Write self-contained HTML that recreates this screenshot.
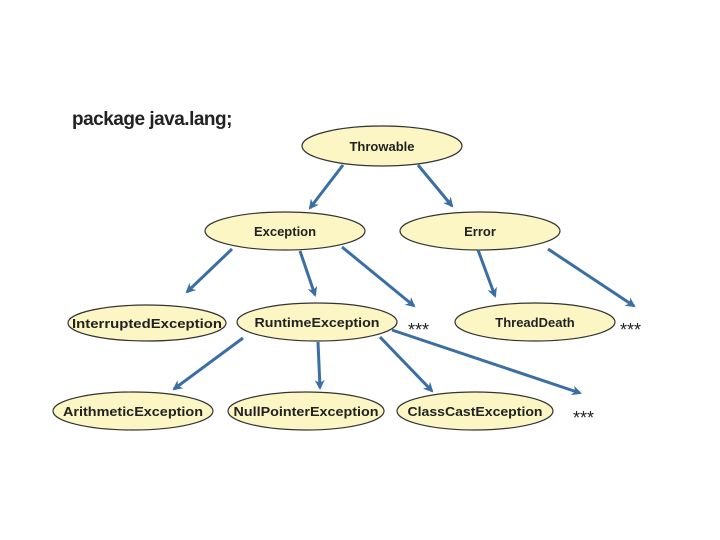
<!DOCTYPE html>
<html><head><meta charset="utf-8"><style>
html,body{margin:0;padding:0;background:#fff;}
svg{display:block;}
text{font-family:"Liberation Sans",sans-serif;}
</style></head><body>
<svg width="720" height="540" viewBox="0 0 720 540" xmlns="http://www.w3.org/2000/svg">
<defs>
<marker id="a" markerWidth="10" markerHeight="10" refX="8" refY="5" orient="auto" markerUnits="userSpaceOnUse" viewBox="0 0 10 10">
<path d="M0,0 L10,5 L0,10 L3,5 z" fill="#3a6ea5"/>
</marker>
</defs>
<text x="72" y="125" font-size="19" fill="#222" font-weight="bold" letter-spacing="-0.5">package java.lang;</text>
<g fill="#fbf6c4" stroke="#333" stroke-width="1.2">
<ellipse cx="382" cy="146" rx="80" ry="20"/>
<ellipse cx="285" cy="231" rx="80" ry="19"/>
<ellipse cx="480" cy="231" rx="80" ry="19"/>
<ellipse cx="147" cy="323" rx="79" ry="18"/>
<ellipse cx="317" cy="322" rx="80" ry="19"/>
<ellipse cx="535" cy="322" rx="80" ry="19"/>
<ellipse cx="133" cy="411" rx="80" ry="19"/>
<ellipse cx="306" cy="411" rx="78" ry="19"/>
<ellipse cx="475" cy="411" rx="78" ry="19"/>
</g>
<g font-size="13" font-weight="bold" fill="#222" text-anchor="middle">
<text x="382" y="151">Throwable</text>
<text x="285" y="236">Exception</text>
<text x="480" y="236">Error</text>
<text x="147" y="328" textLength="150" lengthAdjust="spacingAndGlyphs">InterruptedException</text>
<text x="317" y="327" textLength="125" lengthAdjust="spacingAndGlyphs">RuntimeException</text>
<text x="535" y="327">ThreadDeath</text>
<text x="133" y="416" textLength="140" lengthAdjust="spacingAndGlyphs">ArithmeticException</text>
<text x="306" y="416" textLength="145" lengthAdjust="spacingAndGlyphs">NullPointerException</text>
<text x="475" y="416" textLength="135" lengthAdjust="spacingAndGlyphs">ClassCastException</text>
</g>
<g font-size="18" fill="#222">
<text x="408" y="336">***</text>
<text x="620" y="336">***</text>
<text x="573" y="424">***</text>
</g>
<g stroke="#3a6ea5" stroke-width="3" marker-end="url(#a)" fill="none">
<line x1="343" y1="165" x2="310" y2="208"/>
<line x1="418" y1="165" x2="452" y2="206"/>
<line x1="232" y1="249" x2="187" y2="292"/>
<line x1="300" y1="251" x2="315" y2="295"/>
<line x1="342" y1="247" x2="414" y2="306"/>
<line x1="478" y1="250" x2="495" y2="296"/>
<line x1="548" y1="249" x2="634" y2="306"/>
<line x1="243" y1="338" x2="174" y2="389"/>
<line x1="318" y1="342" x2="320" y2="388"/>
<line x1="380" y1="337" x2="432" y2="391"/>
<line x1="392" y1="330" x2="580" y2="393"/>
</g>
</svg>
</body></html>
